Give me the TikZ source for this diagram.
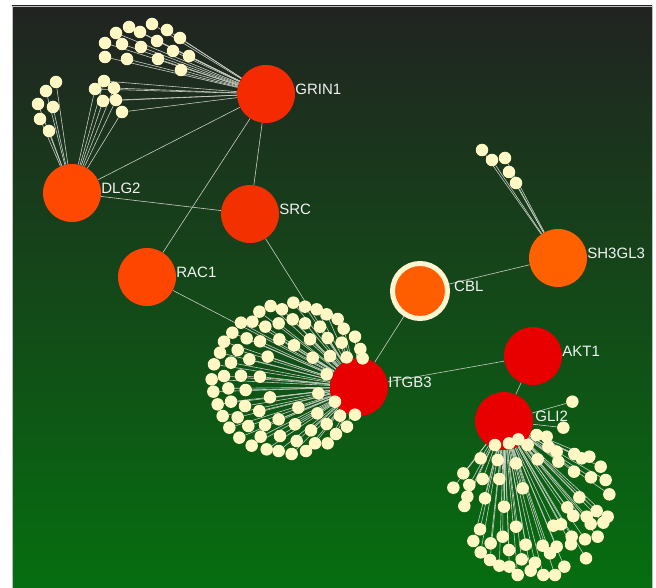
\documentclass[tikz,border=0pt]{standalone}
\usepackage{fontspec}
\setmainfont{Liberation Sans}

\definecolor{bgtop}{RGB}{33,35,33}
\definecolor{bgbot}{RGB}{6,110,16}
\definecolor{panelc}{RGB}{190,190,190}
\definecolor{leafc}{RGB}{255,248,196}
\definecolor{ringc}{RGB}{255,245,208}
\definecolor{linkc}{RGB}{200,205,195}
\definecolor{labelc}{RGB}{242,242,242}
\definecolor{grinc}{RGB}{245,42,0}
\definecolor{srcc}{RGB}{242,48,0}
\definecolor{dlgc}{RGB}{255,72,0}
\definecolor{racc}{RGB}{255,70,0}
\definecolor{cblc}{RGB}{255,94,0}
\definecolor{shc}{RGB}{255,96,0}
\definecolor{redc}{RGB}{232,0,0}

\pgfdeclarelayer{backdrop}
\pgfdeclarelayer{links}
\pgfsetlayers{backdrop,links,main}

\begin{document}
\begin{tikzpicture}[x=1pt,y=-1pt,
  hub/.style={circle, minimum size=58pt, inner sep=0pt},
  leaf/.style={circle, fill=leafc, minimum size=12.5pt, inner sep=0pt},
  link/.style={draw=linkc, line width=0.6pt},
  lbl/.style={text=labelc, font=\fontsize{15}{18}\selectfont, inner sep=0pt, anchor=west}]

\useasboundingbox (0,0) rectangle (656,588);

% page and gradient panel
\begin{pgfonlayer}{backdrop}
  \fill[white] (0,0) rectangle (656,588);
  \shade[top color=bgtop, bottom color=bgbot] (12,6) rectangle (652,588);
  \draw[panelc, line width=0.5pt] (12,6) rectangle (652,588);
\end{pgfonlayer}

% hub proteins
\node[hub, fill=grinc] (GRIN1) at (266,94) {};
\node[hub, fill=dlgc] (DLG2) at (72,193) {};
\node[hub, fill=srcc] (SRC) at (250,214) {};
\node[hub, fill=racc] (RAC1) at (147,277) {};
\node[hub, fill=cblc, draw=ringc, line width=5pt, minimum size=55pt] (CBL) at (420,291) {};
\node[hub, fill=shc] (SH3GL3) at (558,258) {};
\node[hub, fill=redc] (AKT1) at (533,356) {};
\node[hub, fill=redc] (ITGB3) at (359,387) {};
\node[hub, fill=redc] (GLI2) at (504,421) {};

% links between hubs
\begin{pgfonlayer}{links}
  \foreach \a/\b in {GRIN1/DLG2, GRIN1/SRC, GRIN1/RAC1, DLG2/SRC, SRC/ITGB3,
                     RAC1/ITGB3, CBL/ITGB3, CBL/SH3GL3, ITGB3/AKT1, AKT1/GLI2}
    \draw[link] (\a) -- (\b);
\end{pgfonlayer}

% GRIN1 partners
\foreach \x/\y [count=\k] in {129/27, 152/24, 116/33, 140/32, 167/30, 180/38,
    105/43, 122/44, 141/47, 157/41, 173/51, 189/56, 105/57, 127/59, 158/59, 181/70} {
  \node[leaf] (c\k) at (\x,\y) {};
  \begin{pgfonlayer}{links}\draw[link] (GRIN1) -- (c\k);\end{pgfonlayer}
}

% partners shared by GRIN1 and DLG2
\foreach \x/\y [count=\k] in {104/81, 95/89, 114/88, 103/101, 116/100, 122/112} {
  \node[leaf] (e\k) at (\x,\y) {};
  \begin{pgfonlayer}{links}
    \draw[link] (GRIN1) -- (e\k);
    \draw[link] (DLG2) -- (e\k);
  \end{pgfonlayer}
}

% DLG2 partners
\foreach \x/\y [count=\k] in {56/82, 46/91, 38/104, 53/107, 40/119, 49/131} {
  \node[leaf] (d\k) at (\x,\y) {};
  \begin{pgfonlayer}{links}\draw[link] (DLG2) -- (d\k);\end{pgfonlayer}
}

% SH3GL3 partners
\foreach \x/\y [count=\k] in {482/150, 492/160, 505/158, 509/172, 516/183} {
  \node[leaf] (f\k) at (\x,\y) {};
  \begin{pgfonlayer}{links}\draw[link] (SH3GL3) -- (f\k);\end{pgfonlayer}
}

% ITGB3 partners (local grid: one unit = 1/3 pt, origin at 200,280)
\foreach \x/\y [count=\k] in {
    178/95, 212/78, 246/88, 280/68, 315/80, 350/88, 380/103, 413/117,
    123/128, 157/125, 196/140, 236/130, 278/118, 315/130, 360/140, 431/146,
    97/158, 140/175, 180/184, 238/178, 282/196, 330/178, 383/174, 425/188, 465/170,
    72/185, 113/210, 148/238, 203/230, 338/233, 390/228, 440/232, 481/207, 488/235,
    60/218, 93/248, 123/287, 180/290, 380/283,
    42/253, 72/288, 35/298,
    40/335, 85/325, 137/330, 210/352, 355/340, 405/365,
    53/373, 93/365, 135/378, 178/393, 295/383, 352/400, 420/407, 465/404,
    68/408, 113/412, 145/438, 195/435, 236/418, 285/433, 333/451, 380/432, 441/440,
    88/443, 118/473, 182/470, 240/468, 290/483, 345/490, 383/490, 408/462,
    155/497, 200/508, 236/513, 275/522, 318/513} {
  \node[leaf] (a\k) at ({200+\x/3},{280+\y/3}) {};
  \begin{pgfonlayer}{links}\draw[link] (ITGB3) -- (a\k);\end{pgfonlayer}
}

% GLI2 partners (local grid: one unit = 1/3 pt, origin at 430,380)
\foreach \x/\y [count=\k] in {
    427/65, 400/143,
    195/195, 237/190, 265/178, 293/195, 320/165, 350/170, 355/200, 380/215,
    152/235, 203/240, 258/250, 323/238, 385/245, 433/222, 455/235, 478/230, 512/260,
    100/280, 158/297, 208/297, 432/275, 483/292, 527/300,
    70/323, 118/315, 278/325, 538/343,
    112/350, 165/355, 448/352,
    103/378, 222/380, 412/382, 500/393, 533/410,
    150/448, 258/440, 430/408, 470/410, 482/432, 520/428, 370/437, 393/433,
    130/483, 182/490, 218/470, 287/494, 338/497, 380/500, 425/470, 465/478, 503/470, 468/535,
    152/517, 237/510, 360/520, 423/493,
    180/540, 208/557, 238/560, 275/538, 315/548, 302/572, 263/585, 340/585, 375/585, 403/560} {
  \node[leaf] (b\k) at ({430+\x/3},{380+\y/3}) {};
  \begin{pgfonlayer}{links}\draw[link] (GLI2) -- (b\k);\end{pgfonlayer}
}

% hub labels
\node[lbl] (GRIN1-t) at ([yshift=5pt]GRIN1.east) {GRIN1};
\node[lbl] (DLG2-t) at ([yshift=5pt]DLG2.east) {DLG2};
\node[lbl] (SRC-t) at ([yshift=5pt]SRC.east) {SRC};
\node[lbl] (RAC1-t) at ([yshift=5pt]RAC1.east) {RAC1};
\node[lbl] (CBL-t) at ([xshift=4pt,yshift=5pt]CBL.east) {CBL};
\node[lbl] (SH3GL3-t) at ([yshift=5pt]SH3GL3.east) {SH3GL3};
\node[lbl] (AKT1-t) at ([yshift=5pt]AKT1.east) {AKT1};
\node[lbl] (ITGB3-t) at ([yshift=5pt]ITGB3.east) {ITGB3};
\node[lbl] (GLI2-t) at ([xshift=2pt,yshift=5pt]GLI2.east) {GLI2};

\end{tikzpicture}
\end{document}
